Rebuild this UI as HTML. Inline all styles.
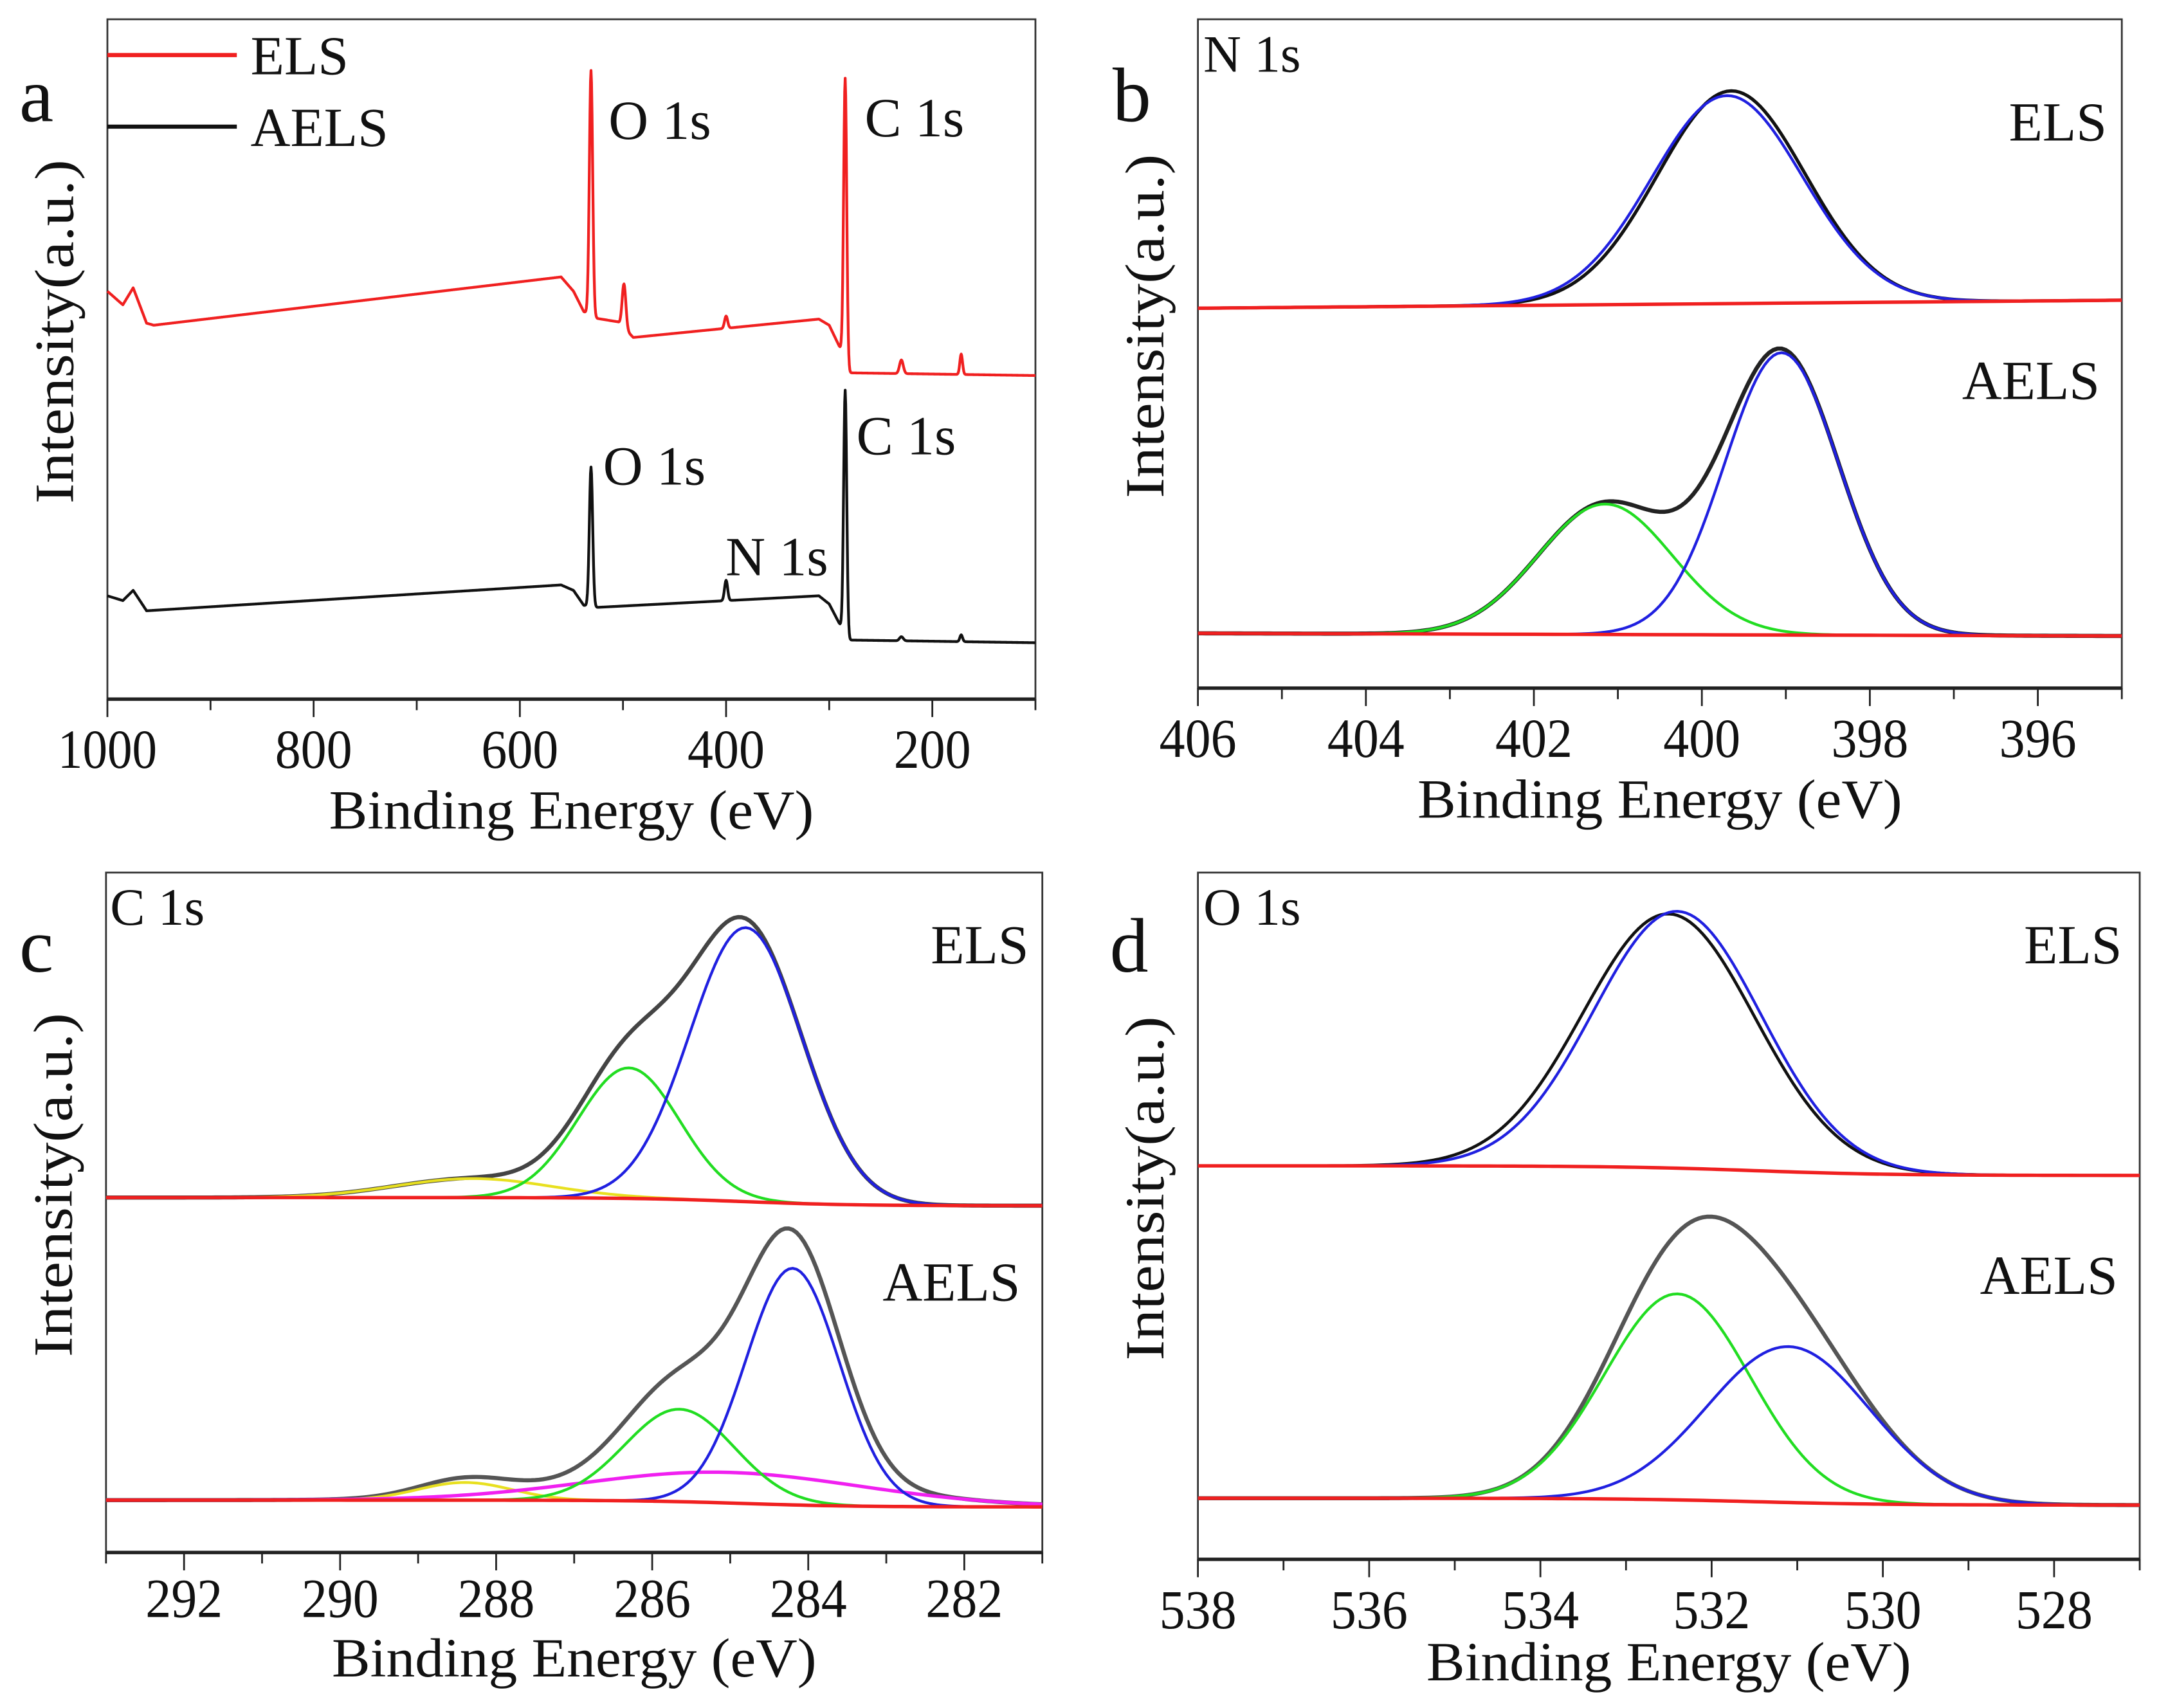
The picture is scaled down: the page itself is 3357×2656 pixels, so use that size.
<!DOCTYPE html>
<html><head><meta charset="utf-8"><style>
html,body{margin:0;padding:0;background:#fff;}
svg{display:block;}
text{font-family:"Liberation Serif",serif;fill:#111;}
</style></head><body>
<svg id="fig" width="3357" height="2656" viewBox="0 0 1568 1241" preserveAspectRatio="none" xmlns="http://www.w3.org/2000/svg"></svg>
<script>
// ---------- DATA ----------
const aTicks = [1000, 800, 600, 400, 200];
const aElsBase = [[1000,60],[985,58],[975,60.5],[962,55.3],[955,55],[560,62.1],[548,60],[538,57],[525,56],[505,55.5],[490,53.2],[310,55.9],[300,55],[288,51.2],[282,48],[100,47.6]];
const aElsPeaks = [[531,36,1.6],[499,6.5,1.8],[400,1.8,1.5],[284.5,42,1.5],[230,2,1.8],[172,3,1.3]];
const aAelsBase = [[1000,15.2],[985,14.5],[975,16],[962,13],[560,16.8],[548,16],[538,13.8],[525,13.5],[310,15.2],[300,14],[288,10.5],[282,8.7],[100,8.3]];
const aAelsPeaks = [[531,20.5,1.6],[400,3,1.5],[284.5,36,1.5],[230,0.6,1.8],[172,1,1.3]];
const bTicks = [406, 404, 402, 400, 398, 396];
const bElsBase = [56.8, 58];
const bElsBlue = [399.7, 31.1, 0.9];
const bElsRaw = [399.65, 31.8, 0.88];
const bAelsBase = [8.2, 7.8];
const bAelsBlue = [399.05, 42.2, 0.68];
const bAelsGreen = [401.15, 19.5, 0.8];
const cTicks = [292, 290, 288, 286, 284, 282];
const cElsBase = [52.2, 51.0];
const cElsBlue = [284.8, 40.3, 0.72];
const cElsGreen = [286.3, 19.2, 0.65];
const cElsYellow = [288.3, 2.8, 1.0];
const cAelsBase = [7.7, 6.7];
const cAelsBlue = [284.2, 34.8, 0.6];
const cAelsGreen = [285.65, 13.6, 0.7];
const cAelsMagenta = [285.0, 4.5, 1.8];
const cAelsYellow = [288.4, 2.6, 0.6];
const dTicks = [538, 536, 534, 532, 530, 528];
const dElsBase = [57.3, 55.9];
const dElsBlue = [532.4, 37.4, 0.98];
const dElsRaw = [532.5, 37.0, 1.0];
const dAelsBase = [8.9, 7.9];
const dAelsGreen = [532.4, 30.0, 0.85];
const dAelsBlue = [531.1, 22.7, 0.95];

// ---------- DRAWING ----------
const NS = "http://www.w3.org/2000/svg";
const svg = document.getElementById('fig');
function el(tag, attrs, parent){ const e=document.createElementNS(NS,tag); for(const k in attrs) e.setAttribute(k,attrs[k]); (parent||svg).appendChild(e); return e; }
function txt(s, x, y, size, name, extra){ const t=el('text',Object.assign({x:x,y:y,'font-size':size},extra||{})); t.textContent=s;
  
  
  return t; }
function gauss(x,p){ return p[1]*Math.exp(-0.5*Math.pow((x-p[0])/p[2],2)); }
function interp(knots,x){ for(let i=0;i<knots.length-1;i++){ const a=knots[i],b=knots[i+1]; if(x<=a[0]&&x>=b[0]){ return a[1]+(b[1]-a[1])*(a[0]-x)/(a[0]-b[0]); } } return knots[knots.length-1][1]; }
function shirley(base,x,center,w){ const s=1/(1+Math.exp((x-center)/w)); return base[0]+(base[1]-base[0])*s; }

function panel(o){
  const g = el('g',{});
  
  
  const X = e => o.x0 + (o.emax - e)/(o.emax - o.emin)*(o.x1 - o.x0);
  const Y = v => o.y1 - v/100*(o.y1 - o.y0);
  const fr = el('rect',{x:o.x0,y:o.y0,width:o.x1-o.x0,height:o.y1-o.y0,fill:'none',stroke:'#333','stroke-width':1.3},g);
  
  
  const ax = el('line',{x1:o.x0,y1:o.y1,x2:o.x1,y2:o.y1,stroke:'#222','stroke-width':2.5},g);
  
  
  const step = o.ticks[0]-o.ticks[1];
  for(let e=o.emax; e>=o.emin-1e-9; e-=step/2){
    const major = o.ticks.some(t=>Math.abs(t-e)<1e-6);
    const tk = el('line',{x1:X(e),y1:o.y1,x2:X(e),y2:o.y1+(major?13:8),stroke:'#222','stroke-width':1.3},g);
    
    
  }
  o.ticks.forEach(t=>{ txt(String(t), X(t), o.y1+o.lo, 40, 'x-tick-label', {'text-anchor':'middle','textLength':t>=1000?72:56,'lengthAdjust':'spacingAndGlyphs'}); });
  txt('Binding Energy (eV)', (o.x0+o.x1)/2, o.y1+o.to, 40, 'x-axis-title', {'text-anchor':'middle','textLength':352,'lengthAdjust':'spacingAndGlyphs'});
  txt('Intensity(a.u.)', 0, 0, 40, 'y-axis-title', {'text-anchor':'middle','transform':`translate(${o.x0-25},${(o.y0+o.y1)/2-20}) rotate(-90)`,'textLength':250,'lengthAdjust':'spacingAndGlyphs'});
  return {g,X,Y};
}
function curve(p, fn, emin, emax, step, color, width, name){
  let d='';
  for(let e=emax; e>=emin-1e-9; e-=step){ const v=fn(e); d += (d?'L':'M') + p.X(e).toFixed(2)+','+p.Y(v).toFixed(2); }
  const path = el('path',{d:d,fill:'none',stroke:color,'stroke-width':width,'stroke-linejoin':'round'},p.g);
  
  
}

// Panel a
const pa = panel({name:'panel-a-survey',x0:78,x1:752,y0:14,y1:508,emax:1000,emin:100,ticks:aTicks,lo:50,to:94});
curve(pa, e=>interp(aElsBase,e)+aElsPeaks.reduce((s,p)=>s+gauss(e,p),0), 100, 1000, 0.5, '#f02020', 2, 'els-survey-line');
curve(pa, e=>interp(aAelsBase,e)+aAelsPeaks.reduce((s,p)=>s+gauss(e,p),0), 100, 1000, 0.5, '#111', 2, 'aels-survey-line');
let l1=el('line',{x1:78,y1:40,x2:172,y2:40,stroke:'#f02020','stroke-width':3});  
let l2=el('line',{x1:78,y1:92,x2:172,y2:92,stroke:'#111','stroke-width':3});  
txt('ELS',182,54,40,'legend-els-label');
txt('AELS',182,106,40,'legend-aels-label');
txt('a',14,88,56,'panel-label-a');
txt('O 1s',442,101,40,'label-o1s-els');
txt('C 1s',628,99,40,'label-c1s-els');
txt('O 1s',438,352,40,'label-o1s-aels');
txt('C 1s',622,330,40,'label-c1s-aels');
txt('N 1s',527,418,40,'label-n1s-aels');

// Panel b
const pb = panel({name:'panel-b-n1s',x0:870,x1:1541,y0:14,y1:500,emax:406,emin:395,ticks:bTicks,lo:50,to:94});
const bl = (base,e)=>base[0]+(base[1]-base[0])*(406-e)/11;
curve(pb, e=>bl(bElsBase,e)+gauss(e,bElsRaw), 395, 406, 0.05, '#111', 2.4, 'els-n1s-raw');
curve(pb, e=>bl(bElsBase,e)+gauss(e,bElsBlue), 395, 406, 0.05, '#2020e0', 2, 'els-n1s-fit');
curve(pb, e=>bl(bElsBase,e), 395, 406, 0.5, '#f02020', 2.5, 'els-n1s-baseline');
curve(pb, e=>bl(bAelsBase,e)+gauss(e,bAelsBlue)+gauss(e,bAelsGreen), 395, 406, 0.05, '#222', 3, 'aels-n1s-raw');
curve(pb, e=>bl(bAelsBase,e)+gauss(e,bAelsGreen), 395, 406, 0.05, '#22dd22', 2, 'aels-n1s-green');
curve(pb, e=>bl(bAelsBase,e)+gauss(e,bAelsBlue), 395, 406, 0.05, '#2020e0', 2, 'aels-n1s-blue');
curve(pb, e=>bl(bAelsBase,e), 395, 406, 0.5, '#f02020', 2.5, 'aels-n1s-baseline');
txt('b',808,88,56,'panel-label-b');
txt('N 1s',874,52,38,'title-n1s');
txt('ELS',1459,102,40,'label-els-b');
txt('AELS',1425,290,40,'label-aels-b');

// Panel c
const pc = panel({name:'panel-c-c1s',x0:77,x1:757,y0:634,y1:1128,emax:293,emin:281,ticks:cTicks,lo:47,to:90});
const cb = (base,e)=>shirley(base,e,284.8,0.7);
curve(pc, e=>cb(cElsBase,e)+gauss(e,cElsBlue)+gauss(e,cElsGreen)+gauss(e,cElsYellow), 281, 293, 0.05, '#444', 3, 'els-c1s-envelope');
curve(pc, e=>cb(cElsBase,e)+gauss(e,cElsYellow), 281, 293, 0.05, '#e8e020', 2, 'els-c1s-yellow');
curve(pc, e=>cb(cElsBase,e)+gauss(e,cElsGreen), 281, 293, 0.05, '#22dd22', 2, 'els-c1s-green');
curve(pc, e=>cb(cElsBase,e)+gauss(e,cElsBlue), 281, 293, 0.05, '#2020e0', 2, 'els-c1s-blue');
curve(pc, e=>cb(cElsBase,e), 281, 293, 0.1, '#f02020', 2.5, 'els-c1s-baseline');
curve(pc, e=>cb(cAelsBase,e)+gauss(e,cAelsBlue)+gauss(e,cAelsGreen)+gauss(e,cAelsMagenta)+gauss(e,cAelsYellow), 281, 293, 0.05, '#555', 3, 'aels-c1s-envelope');
curve(pc, e=>cb(cAelsBase,e)+gauss(e,cAelsYellow), 281, 293, 0.05, '#e8e020', 2, 'aels-c1s-yellow');
curve(pc, e=>cb(cAelsBase,e)+gauss(e,cAelsMagenta), 281, 293, 0.05, '#f020f0', 2.5, 'aels-c1s-magenta');
curve(pc, e=>cb(cAelsBase,e)+gauss(e,cAelsGreen), 281, 293, 0.05, '#22dd22', 2, 'aels-c1s-green');
curve(pc, e=>cb(cAelsBase,e)+gauss(e,cAelsBlue), 281, 293, 0.05, '#2020e0', 2, 'aels-c1s-blue');
curve(pc, e=>cb(cAelsBase,e), 281, 293, 0.1, '#f02020', 2.5, 'aels-c1s-baseline');
txt('c',14,706,56,'panel-label-c');
txt('C 1s',80,672,38,'title-c1s');
txt('ELS',676,700,40,'label-els-c');
txt('AELS',641,945,40,'label-aels-c');

// Panel d
const pd = panel({name:'panel-d-o1s',x0:870,x1:1554,y0:634,y1:1133,emax:538,emin:527,ticks:dTicks,lo:50,to:88});
const db = (base,e)=>shirley(base,e,531.5,0.8);
curve(pd, e=>db(dElsBase,e)+gauss(e,dElsRaw), 527, 538, 0.05, '#111', 2.2, 'els-o1s-raw');
curve(pd, e=>db(dElsBase,e)+gauss(e,dElsBlue), 527, 538, 0.05, '#2020e0', 2, 'els-o1s-fit');
curve(pd, e=>db(dElsBase,e), 527, 538, 0.1, '#f02020', 2.5, 'els-o1s-baseline');
curve(pd, e=>db(dAelsBase,e)+gauss(e,dAelsGreen)+gauss(e,dAelsBlue), 527, 538, 0.05, '#555', 3, 'aels-o1s-envelope');
curve(pd, e=>db(dAelsBase,e)+gauss(e,dAelsGreen), 527, 538, 0.05, '#22dd22', 2, 'aels-o1s-green');
curve(pd, e=>db(dAelsBase,e)+gauss(e,dAelsBlue), 527, 538, 0.05, '#2020e0', 2, 'aels-o1s-blue');
curve(pd, e=>db(dAelsBase,e), 527, 538, 0.1, '#f02020', 2.5, 'aels-o1s-baseline');
txt('d',806,706,56,'panel-label-d');
txt('O 1s',874,672,38,'title-o1s');
txt('ELS',1470,700,40,'label-els-d');
txt('AELS',1438,940,40,'label-aels-d');
</script>
</body></html>
